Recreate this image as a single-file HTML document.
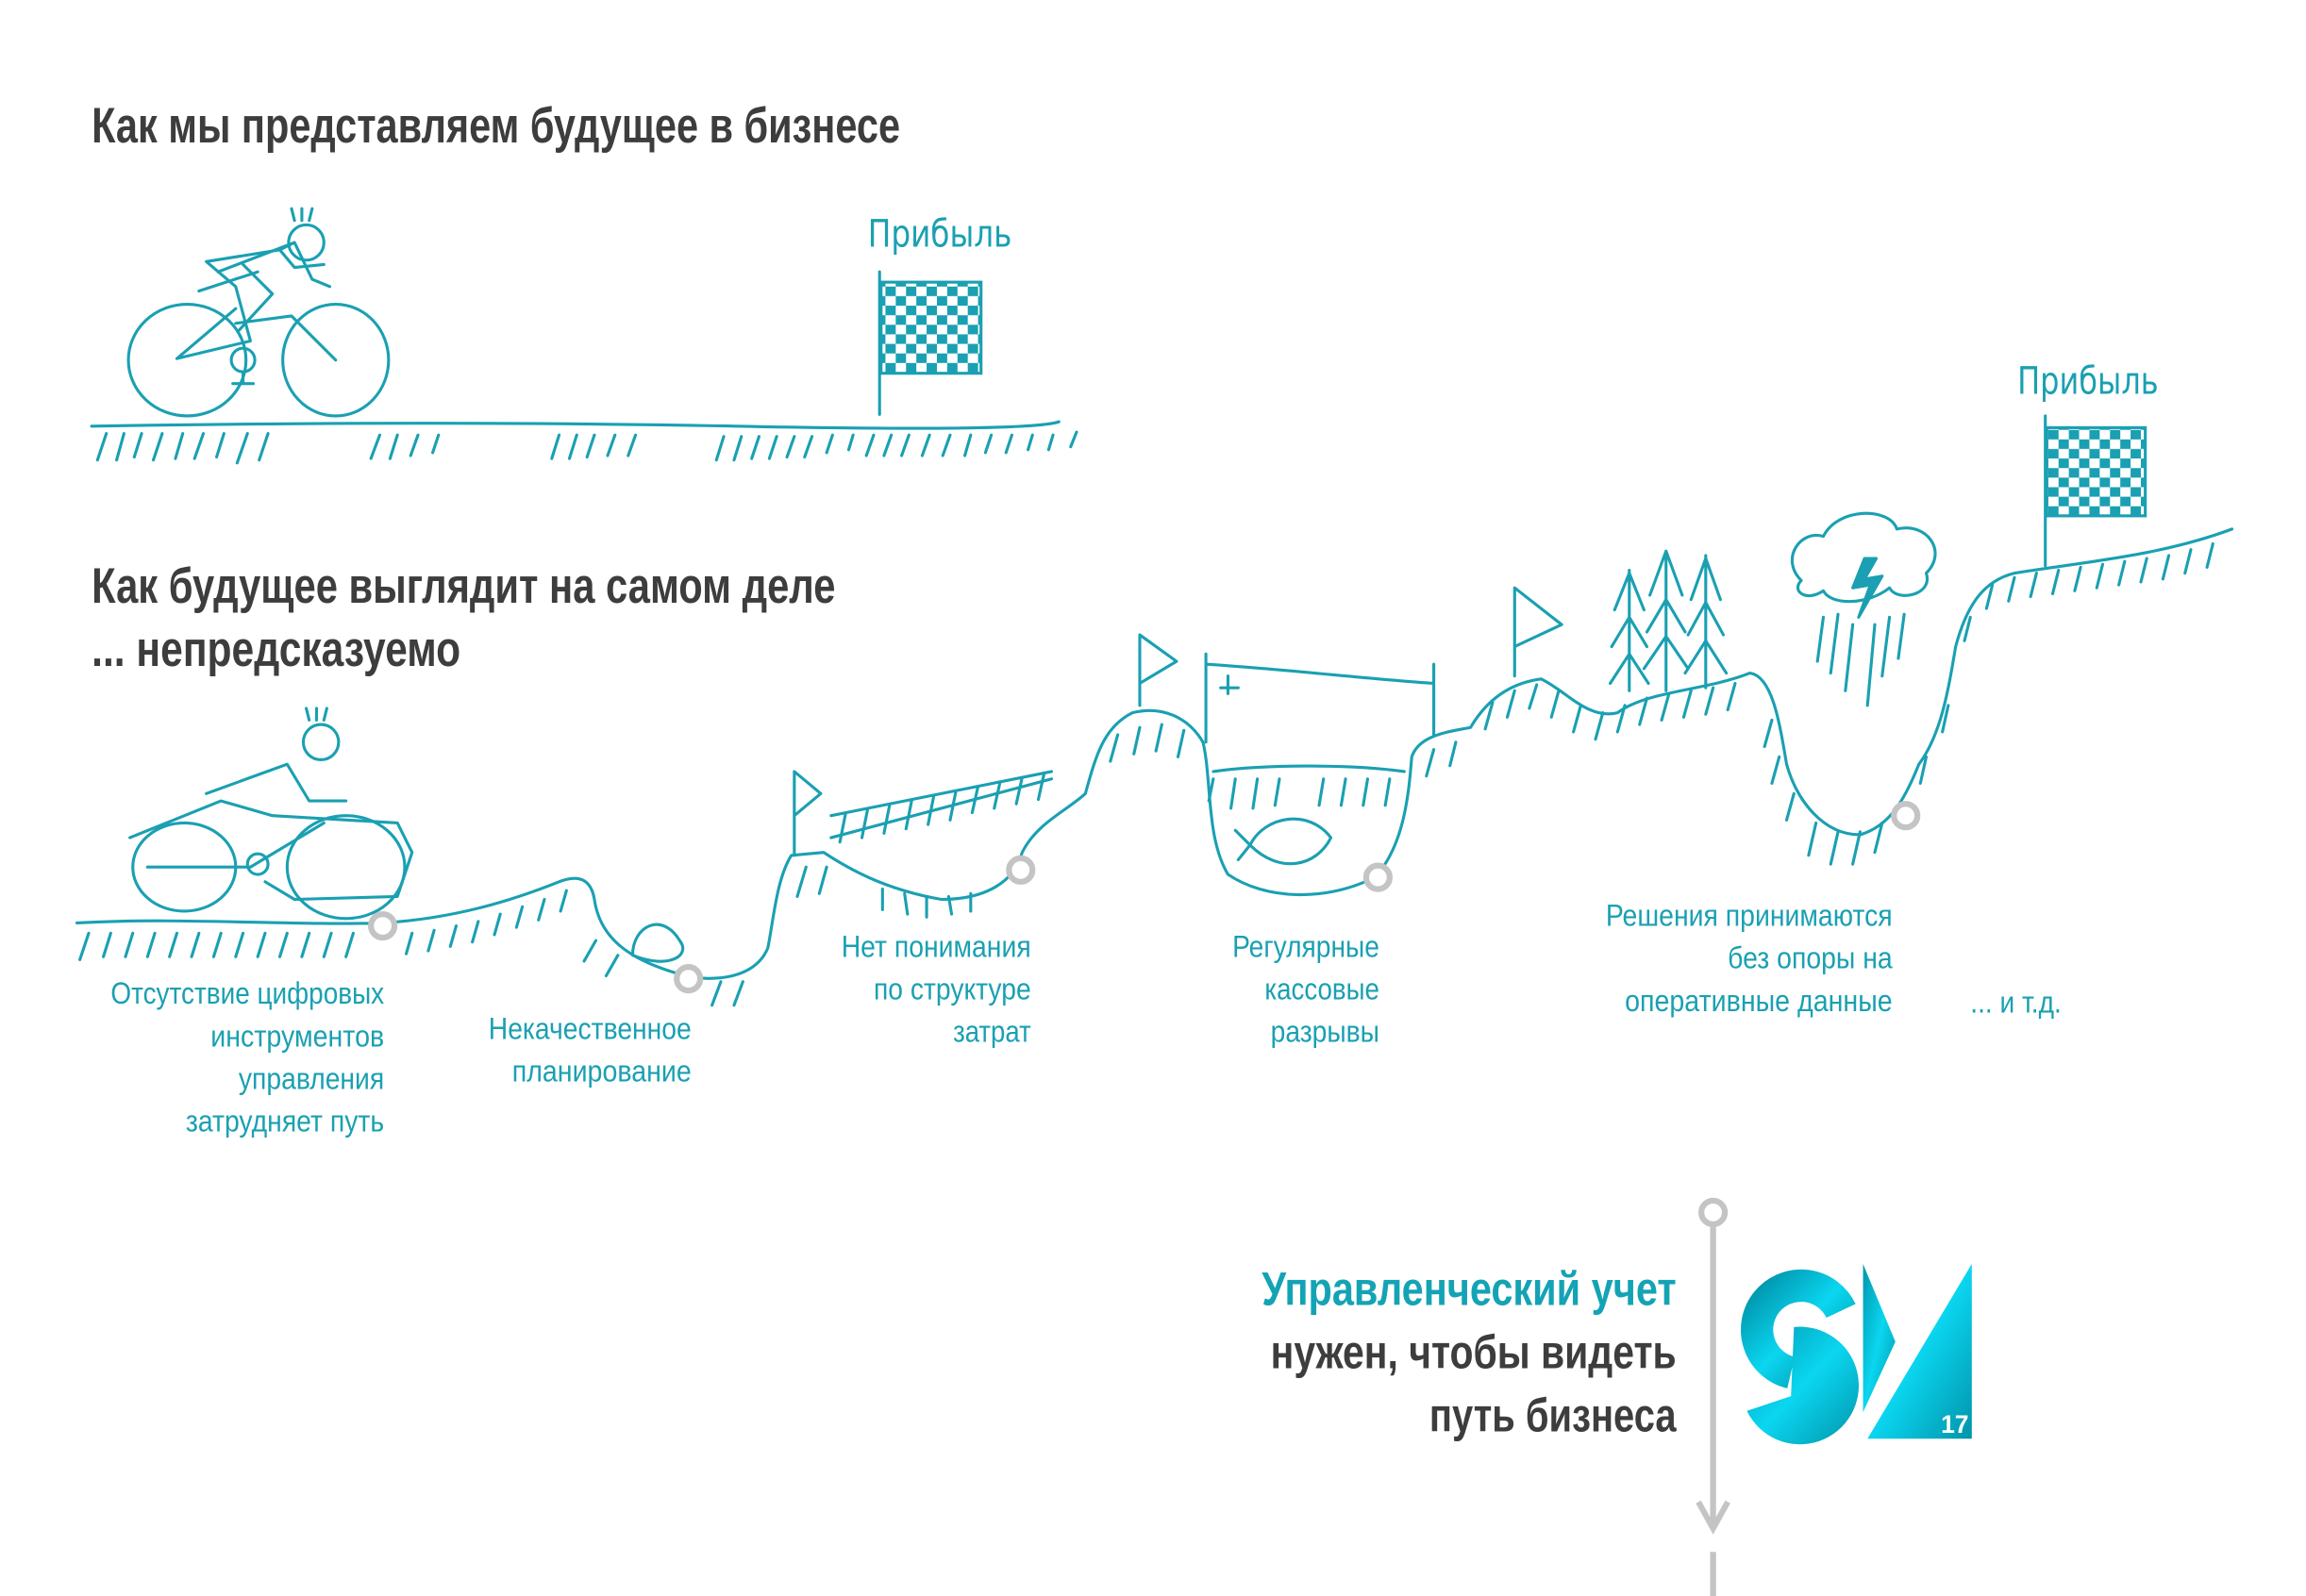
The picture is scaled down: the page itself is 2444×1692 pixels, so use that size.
<!DOCTYPE html>
<html><head><meta charset="utf-8"><style>
html,body{margin:0;padding:0;background:#fff}
svg{display:block}
.h{font-family:"Liberation Sans Narrow","Liberation Sans",sans-serif;font-weight:bold;fill:#3d3d3d}
.l{font-family:"Liberation Sans Narrow","Liberation Sans",sans-serif;fill:#1aa0b2;font-size:21px}
.s{fill:none;stroke:#1aa0b2;stroke-width:2;stroke-linecap:round;stroke-linejoin:round}
.m{fill:#fff;stroke:#c4c4c4;stroke-width:4}
</style></head><body>
<svg width="2444" height="1692" viewBox="0 0 1568 1086" xmlns="http://www.w3.org/2000/svg">
<defs>
<linearGradient id="g" x1="0" y1="0" x2="1" y2="1"><stop offset="0" stop-color="#0096ad"/><stop offset=".5" stop-color="#0bd6f0"/><stop offset="1" stop-color="#0094aa"/></linearGradient>
<pattern id="ch" width="14" height="13" patternUnits="userSpaceOnUse"><rect width="7" height="6.5" fill="#1aa0b2"/><rect x="7" y="6.5" width="7" height="6.5" fill="#1aa0b2"/></pattern>
</defs>
<text class="h" x="62" y="97" font-size="34" textLength="550" lengthAdjust="spacingAndGlyphs">Как мы представляем будущее в бизнесе</text>
<text class="h" x="62" y="410" font-size="34" textLength="506" lengthAdjust="spacingAndGlyphs">Как будущее выглядит на самом деле</text>
<text class="h" x="62" y="453" font-size="34" textLength="251" lengthAdjust="spacingAndGlyphs">... непредсказуемо</text>

<path class="s" d="M62 290 Q300 286 500 290 T720 287"/>
<g class="s">
<path d="M72 295 l-6 18 M84 295 l-5 18 M96 295 l-5 16 M110 295 l-6 18 M124 295 l-5 17 M138 295 l-6 17 M152 295 l-5 16 M168 295 l-7 20 M182 295 l-6 18"/>
<path d="M258 296 l-6 16 M270 296 l-5 16 M284 296 l-5 14 M298 296 l-4 12"/>
<path d="M380 296 l-5 16 M392 296 l-5 16 M404 296 l-5 15 M418 296 l-5 14 M432 296 l-5 14"/>
<path d="M492 297 l-5 16 M504 297 l-5 16 M516 297 l-5 15 M528 297 l-5 15 M540 297 l-5 14 M552 297 l-5 14 M566 296 l-4 12 M580 296 l-3 10 M594 296 l-5 14 M606 296 l-5 14 M618 296 l-5 14 M632 296 l-5 14 M646 296 l-5 14 M660 296 l-4 14 M674 296 l-4 12 M688 296 l-4 12 M702 296 l-3 10 M716 296 l-3 10 M732 294 l-4 10"/>
</g>
<g class="s">
<ellipse cx="127" cy="245" rx="40" ry="38"/>
<ellipse cx="228" cy="245" rx="36" ry="38"/>
<path d="M120 244 L170 232 L160 195 L140 178 L190 170 L200 182 L220 180 M160 220 L198 215 L228 245 M120 244 L160 210 M165 180 L185 200 L162 225"/>
<circle cx="165" cy="245" r="8"/>
<path d="M165 253 v8 M158 261 h14"/>
<path d="M148 185 L200 165 L212 190 L224 195 M135 198 L175 185 M200 165 L190 170"/>
<circle cx="208" cy="165" r="12"/>
<path d="M200 150 l-2 -8 M205 150 l0 -8 M210 150 l2 -8"/>
</g>
<path class="s" d="M598 185 V282"/>
<rect x="599" y="192" width="68" height="62" fill="url(#ch)" stroke="#1aa0b2" stroke-width="2"/>
<text x="590" y="168" font-family="DejaVu Sans Condensed, sans-serif" font-size="26" fill="#1aa0b2" textLength="98" lengthAdjust="spacingAndGlyphs">Прибыль</text>

<path class="s" d="M52 628 C120 624 200 630 260 628 C310 625 350 612 380 600 C395 594 402 600 404 612 C408 640 430 655 470 665 C495 668 515 662 522 645 C526 625 528 598 538 582 L560 580 C575 590 600 605 640 612 C670 612 690 600 695 580 C705 560 725 552 738 540 C745 515 750 495 770 485 C790 480 808 488 818 505 C824 530 820 570 835 595 C860 612 900 614 935 597 C955 575 958 540 960 515 C965 500 985 498 1000 495 C1010 478 1025 465 1048 462 C1065 470 1080 490 1100 485 C1120 470 1160 470 1190 458 C1205 460 1210 490 1215 520 C1222 545 1240 568 1265 568 C1285 562 1295 545 1305 520 C1320 500 1325 470 1330 440 C1338 410 1350 395 1370 390 C1420 382 1470 378 1518 360"/>
<g class="s">
<path d="M60 635 l-6 18 M75 635 l-5 16 M90 635 l-5 16 M105 635 l-5 16 M120 635 l-5 16 M135 635 l-5 16 M150 635 l-5 16 M165 635 l-5 16 M180 635 l-5 16 M195 635 l-5 16 M210 635 l-5 16 M225 635 l-5 16 M240 635 l-5 16 M280 635 l-4 14 M295 633 l-4 14 M310 630 l-4 14 M325 627 l-4 14 M340 622 l-4 14 M355 617 l-4 14 M370 612 l-4 14 M385 606 l-4 14"/>
<path d="M405 640 l-8 14 M420 650 l-8 14 M490 668 l-6 16 M505 668 l-6 16"/>
<path d="M548 590 l-6 20 M562 590 l-5 18 M600 605 l0 14 M615 608 l2 14 M630 610 l0 14 M645 610 l2 12 M660 608 l0 12"/>
<path d="M565 570 L715 530 M565 555 L715 525 M575 553 l-4 20 M590 550 l-4 20 M605 547 l-4 20 M620 544 l-4 20 M635 541 l-4 20 M650 538 l-4 20 M665 535 l-4 18 M680 532 l-4 18 M695 529 l-4 18 M710 526 l-4 18"/>
<path d="M760 500 l-5 18 M775 495 l-4 18 M790 493 l-4 18 M805 497 l-4 18"/>
<path d="M825 530 l-3 15 M840 530 l-3 20 M855 530 l-3 20 M870 530 l-3 18 M900 530 l-3 18 M915 530 l-3 18 M930 530 l-3 18 M945 530 l-3 18"/>
<path d="M825 525 C860 520 920 520 955 525"/>
<path d="M820 445 V505 M975 452 V500 M820 452 C870 455 930 462 975 465 M835 460 v12 M830 468 h12"/>
<path d="M975 510 l-5 18 M990 505 l-4 16 M1015 478 l-5 18 M1030 470 l-5 18 M1045 466 l-5 16 M1060 470 l-5 18 M1075 480 l-5 18 M1090 485 l-5 18 M1105 480 l-5 18 M1120 475 l-5 18 M1135 472 l-5 18 M1150 470 l-5 18 M1165 468 l-5 18 M1180 465 l-5 18"/>
<path d="M1205 490 l-5 18 M1210 515 l-5 18 M1220 540 l-5 18 M1235 560 l-5 22 M1250 566 l-5 22 M1265 566 l-5 22 M1280 560 l-5 20"/>
<path d="M1310 515 l-4 18 M1325 480 l-4 18 M1340 420 l-4 16 M1355 398 l-4 16 M1370 393 l-4 16 M1385 390 l-4 16 M1400 388 l-4 16 M1415 386 l-4 16 M1430 384 l-4 16 M1445 382 l-4 16 M1460 380 l-4 16 M1475 378 l-4 16 M1490 374 l-4 16 M1505 370 l-4 16"/>
<path d="M540 582 V525 L558 540 L540 555 M775 480 V432 L800 450 L775 465 M1030 460 V400 L1062 425 L1030 440"/>
<path d="M1108 470 V388 M1098 415 l10 -25 10 25 M1096 440 l12 -20 12 20 M1095 465 l13 -20 13 20 M1133 470 V375 M1122 405 l11 -30 11 30 M1120 430 l13 -22 13 22 M1118 455 l15 -22 15 22 M1160 468 V378 M1150 408 l10 -28 10 28 M1148 432 l12 -22 12 22 M1146 458 l14 -22 14 22"/>
<path d="M1225 395 C1210 380 1225 360 1240 365 C1250 345 1285 345 1290 360 C1310 355 1325 375 1310 390 C1315 405 1290 410 1285 400 C1270 412 1245 412 1240 402 C1228 410 1218 402 1225 395 Z"/>
<path d="M1268 380 L1260 400 L1272 398 L1264 420 L1280 392 L1268 394 L1276 380 Z" fill="#1aa0b2"/>
<path d="M1240 420 l-4 30 M1250 418 l-5 40 M1260 425 l-5 45 M1275 425 l-5 55 M1285 420 l-5 40 M1295 418 l-4 30"/>
<path d="M850 575 C860 555 890 550 905 570 C895 590 870 595 850 575 Z M850 575 l-10 -10 M850 575 l-8 10"/>
<ellipse cx="125" cy="590" rx="35" ry="30"/>
<ellipse cx="235" cy="590" rx="40" ry="35"/>
<path d="M88 570 L150 545 L185 555 L270 560 L280 580 L270 610 L200 612 L180 600 M100 590 L170 590 L220 560 M140 540 L195 520 L210 545 L235 545"/>
<circle cx="175" cy="588" r="7"/>
<circle cx="218" cy="505" r="12"/>
<path d="M210 490 l-2 -8 M215 490 v-8 M220 490 l2 -8"/>
<path d="M430 650 C430 630 450 620 462 640 C470 650 455 660 430 650 Z"/>
</g>
<path class="s" d="M1391 283 V385"/>
<rect x="1392" y="291" width="67" height="60" fill="url(#ch)" stroke="#1aa0b2" stroke-width="2"/>
<text x="1372" y="268" font-family="DejaVu Sans Condensed, sans-serif" font-size="26" fill="#1aa0b2" textLength="96" lengthAdjust="spacingAndGlyphs">Прибыль</text>

<circle class="m" cx="260" cy="630" r="8"/>
<circle class="m" cx="468" cy="666" r="8"/>
<circle class="m" cx="694" cy="592" r="8"/>
<circle class="m" cx="937" cy="597" r="8"/>
<circle class="m" cx="1296" cy="555" r="8"/>

<g class="l" text-anchor="end">
<text x="261" y="683" textLength="186" lengthAdjust="spacingAndGlyphs">Отсутствие цифровых</text>
<text x="261" y="712" textLength="118" lengthAdjust="spacingAndGlyphs">инструментов</text>
<text x="261" y="741" textLength="99" lengthAdjust="spacingAndGlyphs">управления</text>
<text x="261" y="770" textLength="135" lengthAdjust="spacingAndGlyphs">затрудняет путь</text>
<text x="470" y="707" textLength="138" lengthAdjust="spacingAndGlyphs">Некачественное</text>
<text x="470" y="736" textLength="122" lengthAdjust="spacingAndGlyphs">планирование</text>
<text x="701" y="651" textLength="129" lengthAdjust="spacingAndGlyphs">Нет понимания</text>
<text x="701" y="680" textLength="107" lengthAdjust="spacingAndGlyphs">по структуре</text>
<text x="701" y="709" textLength="53" lengthAdjust="spacingAndGlyphs">затрат</text>
<text x="938" y="651" textLength="100" lengthAdjust="spacingAndGlyphs">Регулярные</text>
<text x="938" y="680" textLength="78" lengthAdjust="spacingAndGlyphs">кассовые</text>
<text x="938" y="709" textLength="74" lengthAdjust="spacingAndGlyphs">разрывы</text>
<text x="1287" y="630" textLength="195" lengthAdjust="spacingAndGlyphs">Решения принимаются</text>
<text x="1287" y="659" textLength="112" lengthAdjust="spacingAndGlyphs">без опоры на</text>
<text x="1287" y="688" textLength="182" lengthAdjust="spacingAndGlyphs">оперативные данные</text>
<text x="1402" y="689" textLength="62" lengthAdjust="spacingAndGlyphs">... и т.д.</text>
</g>

<path d="M1165 833 V1038" stroke="#c4c4c4" stroke-width="4" fill="none"/>
<path d="M1155 1022 L1165 1040 L1175 1022" stroke="#c4c4c4" stroke-width="4" fill="none"/>
<path d="M1165 1056 V1086" stroke="#c4c4c4" stroke-width="4"/>
<circle class="m" cx="1165" cy="825" r="8"/>

<g class="h" text-anchor="end" font-size="32">
<text x="1140" y="888" style="fill:#14a3b5" textLength="282" lengthAdjust="spacingAndGlyphs">Управленческий учет</text>
<text x="1140" y="931" textLength="276" lengthAdjust="spacingAndGlyphs">нужен, чтобы видеть</text>
<text x="1140" y="974" textLength="168" lengthAdjust="spacingAndGlyphs">путь бизнеса</text>
</g>

<path d="M1252 892 A30 30 0 1 0 1218 934" fill="none" stroke="url(#g)" stroke-width="22"/>
<path d="M1220 903 A40 40 0 1 1 1188 960 L1218 950 Z" fill="url(#g)"/>
<polygon points="1267,860 1289,913 1267,961" fill="url(#g)"/>
<polygon points="1341,860 1341,979 1270,979" fill="url(#g)"/>
<text x="1320" y="975" font-family="Liberation Sans Narrow,Liberation Sans,sans-serif" font-weight="bold" font-size="17" fill="#fff">17</text>
</svg>
</body></html>
